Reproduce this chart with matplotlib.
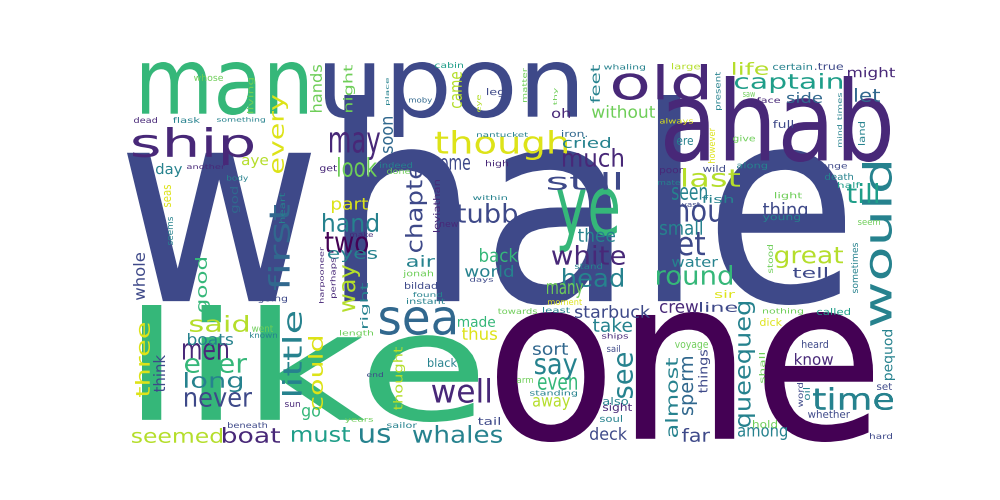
import numpy as np
import matplotlib
matplotlib.use("Agg")
import matplotlib.pyplot as plt
from matplotlib.textpath import TextPath
from matplotlib.font_manager import FontProperties
from matplotlib.patches import PathPatch
from matplotlib.transforms import Affine2D

# viridis-ish colours used by the cloud
P1, P2, B1, B2, T1, T2, G1, G2, Y1, Y2 = ("#440154", "#482878", "#3e4989", "#31688e",
                                          "#26828e", "#1f9e89", "#35b779", "#6ece58",
                                          "#b5de2b", "#dde318")

words = ["whale", "one", "like", "upon", "man", "ahab", "ship", "old", "ye", "though",
         "would", "sea", "time", "captain", "yet", "still", "much", "chapter", "stubb",
         "white", "head", "round", "great", "thou", "last", "every", "first", "two", "hand",
         "may", "good", "said", "three", "men", "ever", "long", "never", "little", "could",
         "seemed", "boat", "must", "us", "whales", "well", "say", "see", "almost", "sperm",
         "queequeg", "time", "know", "among", "far", "deck", "away", "even", "sort", "take",
         "starbuck", "made", "thus", "thought", "back", "world", "air", "many", "crew", "line",
         "sir", "tell", "water", "pequod", "things", "thing", "small", "seen", "till", "side",
         "might", "let", "life", "look", "day", "aye", "soon", "came", "feet", "oh", "without",
         "cried", "come", "hands", "night", "eyes", "way", "right", "part", "god", "think",
         "boats", "go", "whole", "thee", "cabin", "whaling", "place", "moby", "leg", "eye",
         "matter", "thy", "nantucket", "iron.", "high", "done", "indeed", "within",
         "leviathan", "new", "whose", "living", "dead", "flask", "something", "another",
         "get", "body", "seas", "seems", "heart", "make", "large", "certain", ".true",
         "present", "saw", "face", "times", "mind", "always", "full", "however", "land",
         "ere", "give", "wild", "along", "strange", "poor", "mate", "death", "half", "light",
         "fish", "vast", "young", "seem", "stood", "sometimes", "nothing", "called", "dick",
         "voyage", "heard", "shall", "set", "word", "oil", "whether", "hold", "hard", "jonah",
         "days", "bildad", "found", "instant", "stand", "moment", "towards", "least", "ships",
         "sail", "black", "arm", "standing", "also", "sight", "soul", "tail", "sailor",
         "going", "harpooneer", "perhaps", "went", "known", "length", "end", "sun",
         "beneath", "years"]
colors = [B1, P1, G1, B1, G1, P2, P2, P2, G1, Y2,
          T1, B2, T1, T2, B1, B1, P2, B1, B1,
          P2, T1, G1, Y1, B1, Y1, Y2, B2, P1, T1,
          P2, G1, Y1, Y2, P2, G1, T1, B1, T1, Y2,
          Y1, P2, T2, T1, T1, P2, T1, T1, T1, B2,
          T1, T1, P2, T1, B1, B1, Y1, G1, B2, T1,
          B1, G1, Y2, Y1, G1, T1, T1, G2, P2, B1,
          Y2, B1, T1, T1, B1, B1, T1, T1, T2, B2,
          P2, B2, Y1, G2, T1, Y1, B2, Y1, T1, P2, G2,
          T1, B1, G2, G2, T1, Y1, T1, Y2, B2, B1,
          T1, G1, B1, T1, T2, T1, T1, B2, B1, Y1,
          G2, G2, T1, B2, P2, G2, T1, T1,
          P2, P2, G2, G2, P2, T1, T1, P2,
          P2, T1, Y2, T1, T1, P2, Y1, T1, B1,
          T1, G2, P2, T1, T1, Y2, B1, Y2, T1,
          T1, G2, B1, T1, B1, P2, T1, T1, T2, G2,
          T1, B1, T1, G2, G2, T1, G2, T2, Y2,
          G2, B1, G2, B1, B1, T1, B1, G2, B1, G2,
          B1, B1, T1, T1, T1, Y2, G2, T1, P2,
          B1, T1, G2, T1, T1, P2, T1, B1, T1,
          B1, P2, P2, G2, T1, G2, B1, P2,
          B1, G2]
vertical = {"would", "chapter", "every", "first", "good", "three", "little", "could", "see",
            "almost", "sperm", "queequeg", "thought", "pequod", "things", "soon", "came",
            "feet", "hands", "night", "way", "right", "god", "think", "whole", "place", "eye",
            "matter", "thy", "leviathan", "living", "seas", "seems", "heart", "present",
            "times", "mind", "however", "land", "stood", "sometimes", "shall", "word", "oil",
            "harpooneer", "perhaps"}

# ink boxes in image pixels (x0, y0, x1, y1), one per word
layout = [(127, 95, 845, 305), (497, 312, 873, 442), (142, 305, 478, 422), (325, 62, 577, 137),
          (142, 62, 307, 115), (665, 76, 890, 162), (133, 127, 253, 165), (613, 64, 707, 100),
          (557, 188, 618, 252), (435, 130, 567, 160),
          (862, 163, 892, 326), (380, 307, 455, 335), (813, 387, 893, 410), (735, 73, 842, 93),
          (660, 232, 705, 262), (548, 172, 620, 190), (563, 148, 623, 167), (405, 153, 427, 252),
          (443, 203, 517, 223),
          (552, 245, 625, 265), (563, 268, 623, 287), (657, 265, 732, 285), (775, 247, 843, 268),
          (663, 198, 722, 222), (683, 168, 740, 187), (272, 95, 288, 173), (268, 205, 290, 290),
          (325, 232, 368, 253), (323, 213, 378, 232),
          (330, 132, 380, 160), (195, 258, 210, 312), (190, 315, 248, 332), (135, 323, 150, 397),
          (183, 343, 228, 360), (185, 358, 247, 373), (185, 372, 242, 392), (185, 392, 252, 407),
          (282, 312, 302, 395), (308, 337, 323, 410),
          (132, 428, 222, 443), (223, 427, 280, 443), (292, 427, 350, 442), (360, 428, 390, 443),
          (413, 425, 502, 443), (432, 378, 490, 403), (535, 358, 577, 380), (617, 353, 633, 398),
          (665, 358, 678, 437), (682, 357, 697, 415),
          (738, 302, 755, 427), (813, 387, 893, 410), (795, 353, 833, 365), (738, 427, 787, 440),
          (682, 428, 710, 442), (590, 427, 627, 440), (533, 397, 570, 410), (538, 377, 577, 390),
          (533, 343, 568, 355), (593, 318, 632, 332),
          (575, 305, 650, 318), (458, 316, 495, 327), (462, 327, 497, 340), (393, 347, 405, 410),
          (480, 248, 518, 262), (465, 265, 513, 277), (407, 255, 435, 267), (547, 283, 583, 298),
          (660, 303, 698, 313), (700, 302, 737, 312),
          (715, 290, 735, 298), (793, 267, 827, 278), (672, 257, 718, 267), (882, 330, 895, 380),
          (698, 350, 710, 393), (763, 202, 807, 220), (660, 220, 702, 235), (672, 187, 707, 200),
          (847, 183, 878, 203), (787, 92, 822, 103),
          (848, 67, 895, 80), (855, 88, 880, 102), (733, 62, 768, 75), (338, 157, 377, 177),
          (156, 163, 182, 177), (242, 157, 268, 168), (383, 117, 393, 153), (452, 72, 462, 108),
          (590, 65, 600, 103), (552, 108, 570, 118), (592, 105, 655, 118),
          (563, 137, 610, 148), (433, 158, 470, 170), (310, 65, 322, 112), (343, 65, 355, 112),
          (328, 250, 377, 262), (342, 265, 360, 312), (360, 283, 370, 328), (332, 198, 368, 213),
          (230, 187, 240, 213), (153, 355, 165, 392),
          (188, 333, 233, 345), (302, 407, 320, 420), (133, 253, 145, 300), (578, 228, 615, 242),
          (435, 62, 463, 68), (604, 64, 645, 71), (385, 78, 390, 105), (409, 97, 432, 104),
          (487, 88, 504, 97), (477, 95, 482, 112),
          (522, 68, 527, 102), (553, 88, 558, 105), (477, 132, 528, 137), (562, 130, 587, 137),
          (486, 160, 508, 168), (387, 168, 410, 174), (380, 162, 412, 168), (473, 195, 507, 200),
          (433, 180, 440, 232), (440, 222, 458, 227), (194, 74, 223, 81), (247, 78, 255, 113),
          (134, 117, 157, 123), (173, 117, 200, 123), (217, 117, 265, 123), (187, 164, 225, 169),
          (320, 165, 337, 173), (227, 175, 248, 182), (164, 185, 171, 207), (168, 217, 173, 245),
          (279, 193, 285, 223), (350, 232, 373, 237), (672, 63, 700, 71), (773, 63, 812, 70),
          (815, 63, 843, 70),
          (715, 72, 722, 110), (743, 92, 755, 97), (757, 97, 780, 103), (837, 93, 842, 120),
          (837, 125, 842, 147), (660, 118, 693, 125), (773, 120, 793, 128), (708, 128, 715, 163),
          (858, 122, 865, 145),
          (677, 138, 693, 145), (733, 135, 755, 143), (703, 165, 725, 172), (737, 162, 767, 170),
          (807, 163, 847, 170), (660, 168, 683, 175), (658, 180, 680, 185), (825, 173, 853, 180),
          (838, 182, 860, 188), (775, 192, 802, 200),
          (702, 195, 733, 203), (682, 202, 700, 207), (763, 215, 800, 222), (858, 220, 880, 225),
          (767, 245, 773, 273), (851, 243, 858, 293), (763, 308, 803, 315), (817, 308, 850, 315),
          (760, 318, 782, 326),
          (675, 342, 708, 350), (802, 340, 828, 348), (759, 353, 765, 383), (877, 383, 892, 390),
          (797, 383, 803, 407), (803, 388, 810, 400), (808, 410, 850, 418), (753, 420, 777, 428),
          (870, 433, 892, 439), (403, 270, 433, 278),
          (470, 277, 493, 283), (405, 282, 437, 289), (413, 292, 442, 297), (407, 298, 445, 304),
          (575, 263, 602, 269), (548, 299, 582, 305), (498, 308, 537, 314), (543, 307, 570, 313),
          (602, 333, 628, 340),
          (607, 345, 620, 352), (428, 358, 457, 367), (517, 378, 533, 383), (530, 390, 577, 397),
          (603, 397, 628, 405), (603, 403, 632, 413), (600, 415, 622, 422), (478, 417, 500, 425),
          (387, 422, 417, 428),
          (258, 295, 287, 303), (319, 247, 325, 303), (330, 258, 337, 298), (252, 325, 273, 332),
          (250, 332, 277, 338), (340, 330, 373, 337), (367, 372, 383, 377), (285, 402, 300, 407),
          (228, 422, 267, 428), (345, 418, 373, 423)]

fp = FontProperties(family="DejaVu Sans")


def put(ax, word, box, color, vert):
    tp = TextPath((0, 0), word, size=100, prop=fp)
    ext = tp.get_extents()
    x0, y0, x1, y1 = box
    if not vert:
        sx = (x1 - x0) / ext.width
        sy = (y1 - y0) / ext.height
        tr = Affine2D().translate(-ext.x0, -ext.y0).scale(sx, -sy).translate(x0, y1)
    else:
        # reads bottom to top
        a = (x1 - x0) / ext.height
        b = (y1 - y0) / ext.width
        tr = Affine2D(np.array([[0, -a, x1 + a * ext.y0],
                                [-b, 0, y1 + b * ext.x0],
                                [0, 0, 1]]))
    ax.add_patch(PathPatch(tr.transform_path(tp), facecolor=color, edgecolor="none"))


fig = plt.figure(figsize=(10, 5), dpi=100)
ax = fig.add_axes([0, 0, 1, 1])
ax.set_xlim(0, 1000)
ax.set_ylim(500, 0)
ax.axis("off")

for w, c, box in zip(words, colors, layout):
    put(ax, w, box, c, w in vertical and box[3] - box[1] > box[2] - box[0])

fig.savefig("out.png", dpi=100, facecolor="white")
